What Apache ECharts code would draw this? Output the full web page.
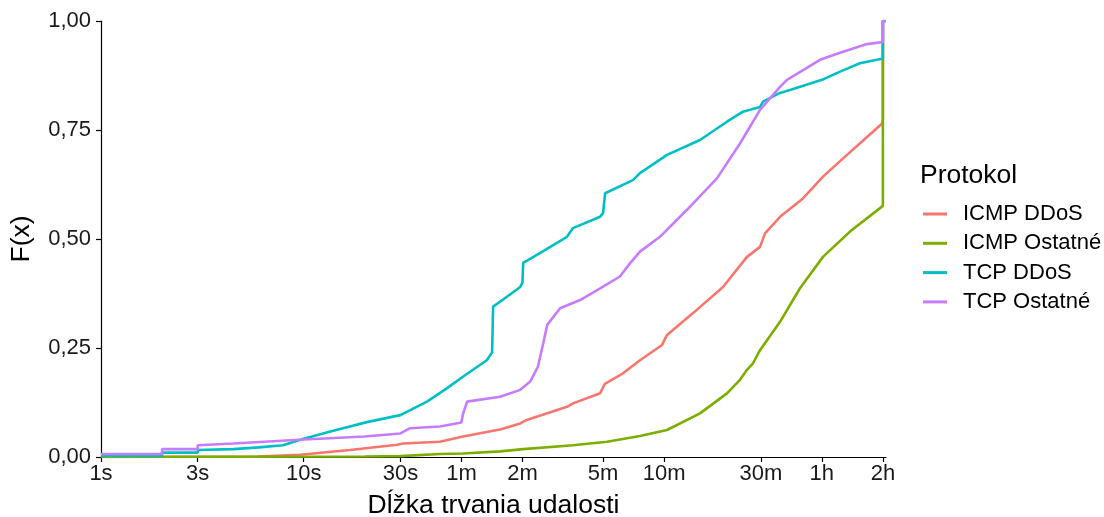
<!DOCTYPE html>
<html>
<head>
<meta charset="utf-8">
<script src="https://cdn.jsdelivr.net/npm/echarts@6/dist/echarts.min.js"></script>
<style>
  html, body { margin: 0; padding: 0; background: #fff; }
  #chart { width: 1104px; height: 517px; }
</style>
</head>
<body>
<div id="chart"></div>
<script>
// os x: dĺžka udalosti v sekundách (log mierka), os y: F(x)
const tickSeconds = [1, 3, 10, 30, 60, 120, 300, 600, 1800, 3600, 7200];
const tickLabels = ['1s', '3s', '10s', '30s', '1m', '2m', '5m', '10m', '30m', '1h', '2h'];
const xMaxSeconds = 7460;

const seriesNames = ['ICMP DDoS', 'ICMP Ostatné', 'TCP DDoS', 'TCP Ostatné'];
const seriesColors = ['#F8766D', '#7CAE00', '#00BFC4', '#C77CFF'];

// ICMP DDoS
const icmpDdosSec = [1, 5.9, 9.6, 16.9, 28.9, 30.9, 47, 61, 93, 117, 126, 199, 213, 290, 306, 376, 456, 586, 620, 833, 1171, 1538, 1783, 1888, 2238, 2906, 3645, 4789, 6431, 7134, 7200, 7200, 7460];
const icmpDdosF = [0, 0.001, 0.005, 0.016, 0.028, 0.031, 0.035, 0.047, 0.063, 0.077, 0.085, 0.115, 0.123, 0.146, 0.168, 0.192, 0.222, 0.257, 0.28, 0.33, 0.39, 0.459, 0.482, 0.513, 0.551, 0.593, 0.643, 0.693, 0.746, 0.765, 0.775, 1, 1];

// ICMP Ostatné
const icmpOtherSec = [1, 20, 30, 47, 61, 93, 121, 213, 314, 394, 456, 620, 902, 1225, 1420, 1538, 1647, 1783, 2238, 2808, 3645, 4955, 7200, 7200, 7460];
const icmpOtherF = [0, 0.001, 0.002, 0.007, 0.008, 0.013, 0.018, 0.027, 0.035, 0.043, 0.048, 0.062, 0.1, 0.146, 0.177, 0.2, 0.215, 0.245, 0.31, 0.387, 0.459, 0.517, 0.576, 1, 1];

// TCP DDoS
const tcpDdosSec = [1, 2, 2, 3, 3, 4.5, 6, 7.9, 10, 14, 20.5, 30, 40.6, 51, 61, 80, 85, 86, 101, 117, 120, 121, 147, 199, 213, 290, 300, 307, 421, 456, 620, 902, 1225, 1469, 1783, 1845, 2238, 2506, 3605, 4425, 5550, 7200, 7200, 7460];
const tcpDdosF = [0.003, 0.003, 0.01, 0.01, 0.016, 0.018, 0.022, 0.027, 0.042, 0.06, 0.08, 0.096, 0.127, 0.158, 0.184, 0.222, 0.24, 0.345, 0.368, 0.39, 0.4, 0.445, 0.468, 0.505, 0.525, 0.551, 0.56, 0.605, 0.635, 0.651, 0.693, 0.727, 0.769, 0.792, 0.803, 0.815, 0.835, 0.842, 0.865, 0.884, 0.903, 0.914, 1, 1];

// TCP Ostatné
const tcpOtherSec = [1, 2, 2, 3, 3, 4.5, 10, 20, 30, 33.5, 47, 60, 61, 62, 64, 93, 117, 131, 143, 152, 159, 184, 231, 290, 363, 407, 456, 572, 778, 1093, 1420, 1783, 2238, 2421, 3525, 4425, 6011, 7200, 7200, 7460];
const tcpOtherF = [0.007, 0.007, 0.018, 0.018, 0.027, 0.031, 0.04, 0.047, 0.054, 0.066, 0.07, 0.079, 0.098, 0.1, 0.127, 0.138, 0.154, 0.173, 0.207, 0.261, 0.303, 0.341, 0.36, 0.387, 0.414, 0.444, 0.471, 0.505, 0.567, 0.639, 0.719, 0.796, 0.849, 0.865, 0.911, 0.927, 0.947, 0.952, 1, 1];

const secList = [icmpDdosSec, icmpOtherSec, tcpDdosSec, tcpOtherSec];
const fList = [icmpDdosF, icmpOtherF, tcpDdosF, tcpOtherF];

const FONT = 'Liberation Sans';
const tickValues = tickSeconds.map(s => Math.log10(s));

function toPoints(sec, f) {
  return sec.map((s, i) => [Math.log10(s), f[i]]);
}

const chart = echarts.init(document.getElementById('chart'), null, { renderer: 'canvas' });

const option = {
  animation: false,
  backgroundColor: '#ffffff',
  textStyle: { fontFamily: FONT },
  title: {
    text: 'Protokol',
    left: 920,
    top: 162,
    padding: [0, 0, 0, 0],
    textStyle: { fontFamily: FONT, fontSize: 26.5, fontWeight: 'normal', color: '#000' }
  },
  legend: {
    orient: 'vertical',
    left: 923,
    top: 203,
    padding: 0,
    icon: 'rect',
    itemWidth: 24,
    itemHeight: 3,
    itemGap: 7.3,
    data: seriesNames,
    textStyle: { fontFamily: FONT, fontSize: 22, color: '#000', lineHeight: 22, padding: [0, 0, 0, 11] }
  },
  grid: { left: 101, right: 218, top: 21, bottom: 60, containLabel: false, outerBoundsMode: 'none' },
  xAxis: {
    type: 'value',
    min: 0,
    max: Math.log10(xMaxSeconds),
    name: 'Dĺžka trvania udalosti',
    nameLocation: 'middle',
    nameGap: 35,
    nameTextStyle: { fontFamily: FONT, fontSize: 26.5, color: '#000' },
    axisLine: { show: true, onZero: false, lineStyle: { color: '#000', width: 1.2 } },
    axisTick: { show: true, length: 5, customValues: tickValues, lineStyle: { color: '#000', width: 1.2 } },
    axisLabel: {
      customValues: tickValues,
      margin: 6,
      fontFamily: FONT,
      fontSize: 22,
      color: '#1a1a1a',
      formatter: v => {
        let best = 0;
        tickValues.forEach((t, i) => { if (Math.abs(t - v) < Math.abs(tickValues[best] - v)) best = i; });
        return tickLabels[best];
      }
    },
    splitLine: { show: false }
  },
  yAxis: {
    type: 'value',
    min: 0,
    max: 1,
    interval: 0.25,
    name: 'F(x)',
    nameLocation: 'middle',
    nameGap: 66,
    nameTextStyle: { fontFamily: FONT, fontSize: 26.5, color: '#000' },
    axisLine: { show: true, lineStyle: { color: '#000', width: 1.2 } },
    axisTick: { show: true, length: 5, lineStyle: { color: '#000', width: 1.2 } },
    axisLabel: {
      margin: 10,
      fontFamily: FONT,
      fontSize: 22,
      color: '#1a1a1a',
      formatter: v => v.toFixed(2).replace('.', ',')
    },
    splitLine: { show: false }
  },
  series: seriesNames.map((name, i) => ({
    name: name,
    type: 'line',
    data: toPoints(secList[i], fList[i]),
    showSymbol: false,
    symbol: 'none',
    color: seriesColors[i],
    lineStyle: { color: seriesColors[i], width: 2.6 },
    clip: true
  }))
};

chart.setOption(option);
</script>
</body>
</html>
